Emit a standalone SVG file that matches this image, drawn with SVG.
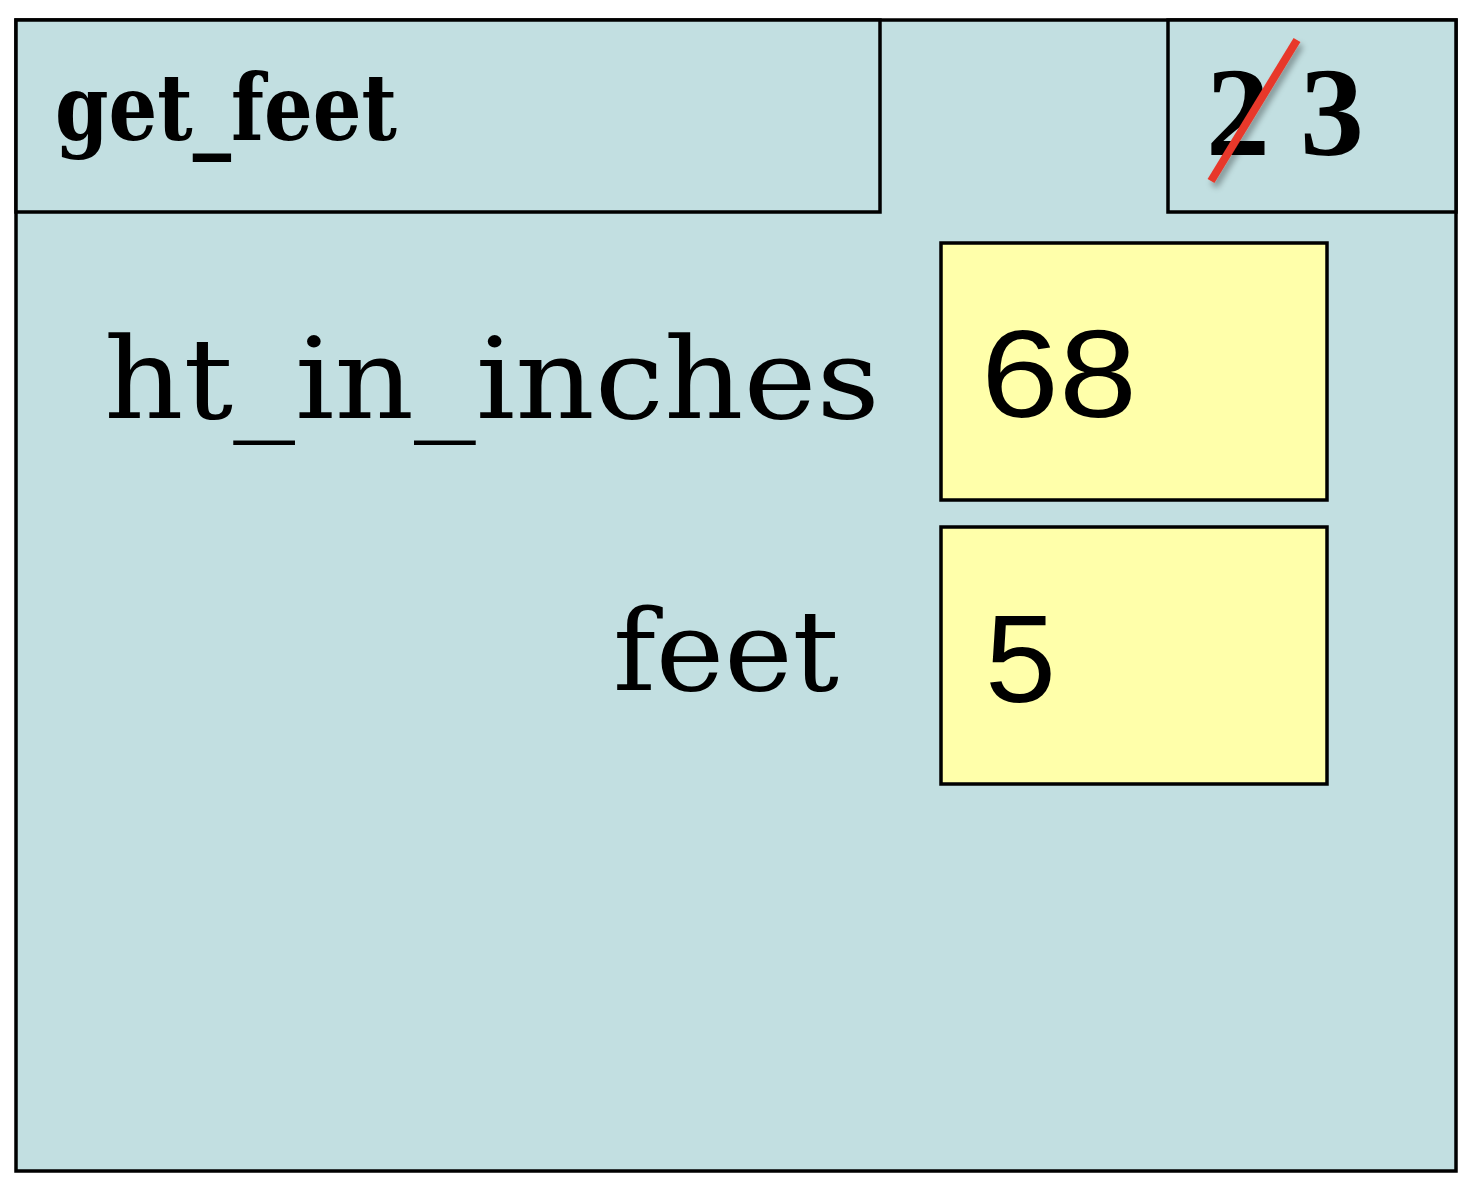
<svg xmlns="http://www.w3.org/2000/svg" width="1472" height="1192" viewBox="0 0 1472 1192">
<defs>
<style>
.frame{fill:#c2dfe1;stroke:#000;stroke-width:3.5}
.box{fill:#ffffaa;stroke:#000;stroke-width:3.5}
.tw{font-family:"DejaVu Serif","Liberation Serif",serif;fill:#000}
.sans{font-family:"Liberation Sans","DejaVu Sans",sans-serif;fill:#000}
.num{font-family:"Liberation Serif","DejaVu Serif",serif;font-weight:bold;fill:#000}
</style>
<filter id="sh" x="-20%" y="-20%" width="140%" height="140%">
<feGaussianBlur in="SourceAlpha" stdDeviation="3"/>
<feOffset dx="3" dy="5" result="b"/>
<feComponentTransfer><feFuncA type="linear" slope="0.35"/></feComponentTransfer>
<feMerge><feMergeNode/><feMergeNode in="SourceGraphic"/></feMerge>
</filter>
</defs>
<g id="frame">
<rect class="frame" x="16" y="20" width="1440" height="1151"/>
</g>
<g id="header">
<rect class="frame" x="16" y="20" width="864" height="192"/>
<text class="tw" x="55" y="140" font-size="92" font-weight="bold" textLength="342" lengthAdjust="spacingAndGlyphs">get_feet</text>
</g>
<g id="counter">
<rect class="frame" x="1168" y="20" width="288" height="192"/>
<text class="num" x="1206" y="155" font-size="126" textLength="64" lengthAdjust="spacingAndGlyphs">2</text>
<text class="num" x="1300" y="155" font-size="126" textLength="64" lengthAdjust="spacingAndGlyphs">3</text>
<line x1="1211" y1="181" x2="1297" y2="40" stroke="#e8382b" stroke-width="8" filter="url(#sh)"/>
</g>
<g id="var-ht">
<text class="tw" x="104" y="418" font-size="112" textLength="776" lengthAdjust="spacingAndGlyphs">ht_in_inches</text>
<rect class="box" x="941" y="243" width="386" height="257"/>
<text class="sans" x="981" y="417" font-size="124" textLength="156" lengthAdjust="spacingAndGlyphs">68</text>
</g>
<g id="var-feet">
<text class="tw" x="613" y="690" font-size="112" textLength="226" lengthAdjust="spacingAndGlyphs">feet</text>
<rect class="box" x="941" y="527" width="386" height="257"/>
<text class="sans" x="985" y="702" font-size="124" textLength="71" lengthAdjust="spacingAndGlyphs">5</text>
</g>
<g id="connectors"/>
</svg>
